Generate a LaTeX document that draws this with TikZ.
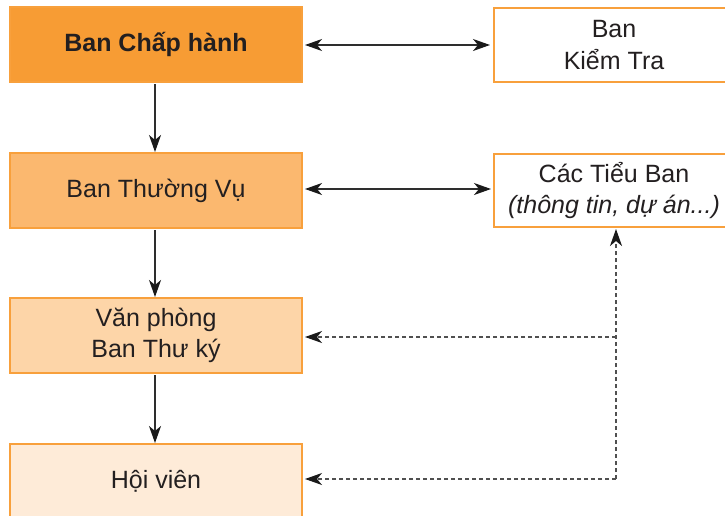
\documentclass[tikz,border=0pt]{standalone}
\usepackage{fontspec}
\setmainfont{Liberation Sans}
\usetikzlibrary{arrows.meta}
\definecolor{edgeor}{HTML}{F8A03C}
\definecolor{fillA}{HTML}{F79C34}
\definecolor{fillB}{HTML}{FBB86F}
\definecolor{fillC}{HTML}{FDD5A8}
\definecolor{fillD}{HTML}{FEEBD8}
\definecolor{txt}{HTML}{231F20}
\definecolor{lin}{HTML}{2E2E2E}
\definecolor{dsh}{HTML}{505050}
\definecolor{tipc}{HTML}{1A1A1A}
\tikzset{
  orgbox/.style={draw=edgeor, line width=2pt, text=txt, align=center, inner sep=0pt,
    font=\fontsize{25}{31.5}\selectfont},
  leftbox/.style={orgbox, minimum width=292pt, minimum height=75pt},
  rightbox/.style={orgbox, fill=white, minimum width=240pt, minimum height=74pt},
  tip/.tip={Stealth[length=17pt,width=12pt,inset=5pt,color=tipc]},
  solidcon/.style={draw=lin, line width=1.3pt},
  dashcon/.style={draw=dsh, line width=1.3pt, dash pattern=on 4pt off 3pt},
}
\begin{document}
\begin{tikzpicture}[x=1pt,y=-1pt]
\path[use as bounding box] (0,0) rectangle (725,515);
\clip (0,0) rectangle (725,515);
\node[leftbox, fill=fillA, font=\fontsize{25}{31.5}\selectfont\bfseries] (chap) at (156,44.5) {Ban Chấp hành};
\node[rightbox] (kiem) at (614,45) {Ban\\Kiểm Tra};
\node[leftbox, fill=fillB] (thuong) at (156,190.5) {Ban Thường Vụ};
\node[rightbox, minimum height=73pt] (tieu) at (614,190.5) {Các Tiểu Ban\\\textit{(thông tin, dự án...)}};
\node[leftbox, fill=fillC] (vp) at (156,335.5) {Văn phòng\\Ban Thư ký};
\node[leftbox, fill=fillD] (hoi) at (156,481.5) {Hội viên};
% vertical arrows
\draw[solidcon, -tip, shorten <=1pt] (chap.south -| 155,0) -- (thuong.north -| 155,0);
\draw[solidcon, -tip, shorten <=1pt] (thuong.south -| 155,0) -- (vp.north -| 155,0);
\draw[solidcon, -tip, shorten <=1pt] (vp.south -| 155,0) -- (hoi.north -| 155,0);
% horizontal double arrows
\coordinate (h1) at (400,45);
\coordinate (h2) at (400,189);
\draw[solidcon, tip-tip, shorten <=2pt, shorten >=3pt] (chap.east |- h1) -- (kiem.west |- h1);
\draw[solidcon, tip-tip, shorten <=2pt, shorten >=2pt] (thuong.east |- h2) -- (tieu.west |- h2);
% dashed connectors
\coordinate (j1) at (616,479);
\coordinate (j2) at (616,337);
\draw[dashcon, -tip, shorten >=1pt] (j1) -- (j1 |- tieu.south);
\draw[dashcon, -tip, shorten >=2pt] (j1) -- (hoi.east |- j1);
\draw[dashcon, -tip, shorten >=2pt] (j2) -- (vp.east |- j2);
\end{tikzpicture}
\end{document}
